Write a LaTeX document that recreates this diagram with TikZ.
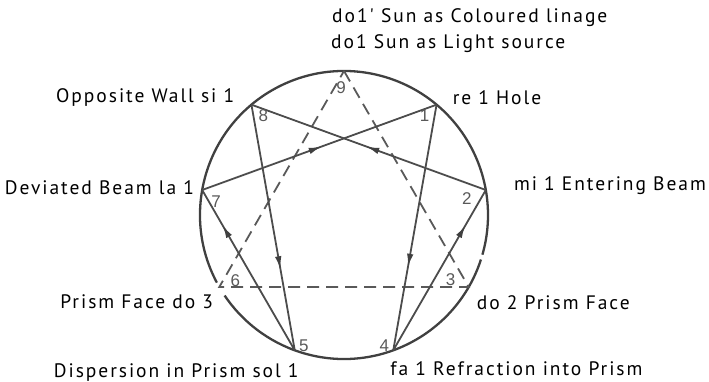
\documentclass[tikz,border=0pt]{standalone}
\usepackage{fontspec}
\setmainfont[LetterSpace=10,Ligatures=TeXOff]{PT Sans}
\setsansfont{Liberation Sans}
\usetikzlibrary{arrows.meta,decorations.markings}
\tikzset{
	ray/.style = {line width=1.8pt, draw=black!70},
	beam/.style = {ray, postaction={decorate}, decoration={markings, mark=at position #1 with {\arrow[black!75]{Latex[length=13pt,width=6.5pt]}}}},
	prism/.style = {line width=1.8pt, draw=black!65, dash pattern=on 12pt off 7pt},
	num/.style = {font=\fontsize{17}{17}\sffamily, text=black!65, inner sep=0pt},
	lbl/.style = {font=\fontsize{19.5}{20}\selectfont, inner sep=0pt, text height=0.72em, text depth=0.2em}
}
\begin{document}
\begin{tikzpicture}[x=1pt, y=1pt]
	\useasboundingbox (0,0) rectangle (709,382);
	\coordinate (c) at (344,167);
	\def\R{144pt}
	% the nine points, 9 on top
	\foreach \k in {1,...,9}
		\path (c) ++({90-40*\k}:\R) coordinate (p\k);
	% circle, broken at 6
	\draw [line width=2.3pt, black!75] (c) ++(208:\R) arc (208:-16:\R);
	\draw [line width=2.3pt, black!75] (c) ++(-18:\R) arc (-18:-146:\R);
	% prism triangle
	\draw [prism] (p9) -- (p3) -- (p6) -- cycle;
	% the light path
	\draw [beam=0.66] (p1) -- (p4);
	\draw [beam=0.78] (p4) -- (p2);
	\draw [beam=0.51] (p2) -- (p8);
	\draw [beam=0.67] (p8) -- (p5);
	\draw [beam=0.78] (p5) -- (p7);
	\draw [beam=0.51] (p7) -- (p1);
	% numbers
	\node [num] (n9) at ([shift={(-3pt,-17pt)}]p9) {9};
	\node [num] (n1) at ([shift={(-12pt,-11pt)}]p1) {1};
	\node [num] (n2) at ([shift={(-19pt,-9pt)}]p2) {2};
	\node [num] (n3) at ([shift={(-18pt,7pt)}]p3) {3};
	\node [num] (n4) at ([shift={(-9pt,5pt)}]p4) {4};
	\node [num] (n5) at ([shift={(9pt,5pt)}]p5) {5};
	\node [num] (n6) at ([shift={(16pt,6pt)}]p6) {6};
	\node [num] (n7) at ([shift={(14pt,-12pt)}]p7) {7};
	\node [num] (n8) at ([shift={(12pt,-11pt)}]p8) {8};
	% labels
	\node [lbl, anchor=west] (sun) at ([shift={(-13pt,25pt)}]p9) {do1 Sun as Light source};
	\node [lbl, anchor=west] (image) at ([shift={(-12pt,51pt)}]p9) {do1' Sun as Coloured linage};
	\node [lbl, anchor=west] (hole) at ([shift={(16pt,3pt)}]p1) {re 1 Hole};
	\node [lbl, anchor=west] (enter) at ([shift={(28pt,2pt)}]p2) {mi 1 Entering Beam};
	\node [lbl, anchor=west] (face2) at ([shift={(8pt,-20pt)}]p3) {do 2 Prism Face};
	\node [lbl, anchor=west] (refr) at ([shift={(-3pt,-23pt)}]p4) {fa 1 Refraction into Prism};
	\node [lbl, anchor=east] (disp) at ([shift={(4pt,-25pt)}]p5) {Dispersion in Prism sol 1};
	\node [lbl, anchor=east] (face3) at ([shift={(-6pt,-19pt)}]p6) {Prism Face do 3};
	\node [lbl, anchor=east] (dev) at ([shift={(-8pt,-2pt)}]p7) {Deviated Beam la 1};
	\node [lbl, anchor=east] (wall) at ([shift={(-17pt,5pt)}]p8) {Opposite Wall si 1};
\end{tikzpicture}
\end{document}
